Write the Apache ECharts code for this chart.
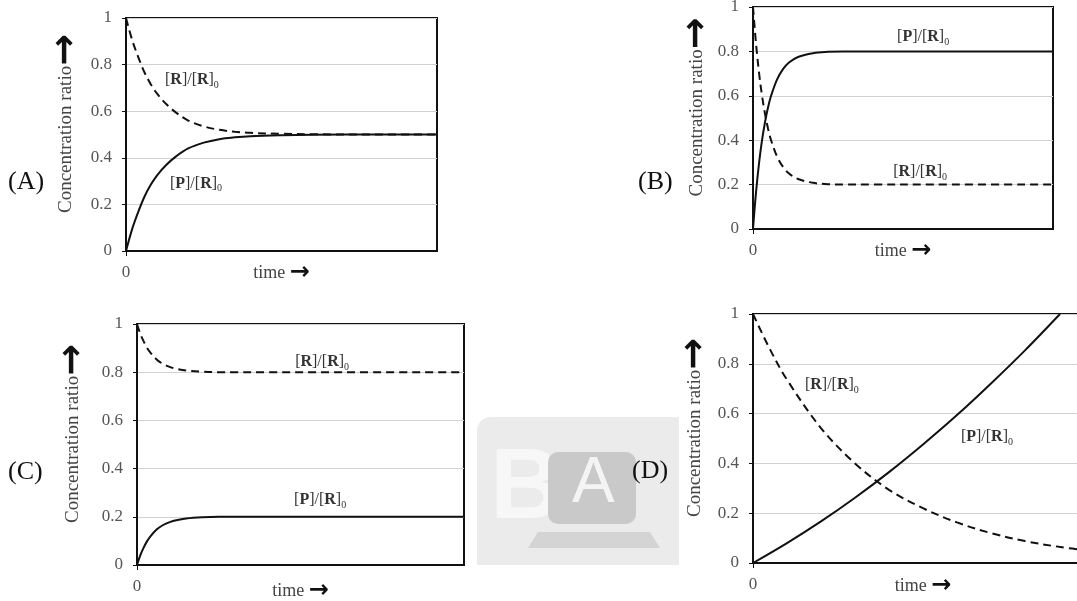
<!DOCTYPE html>
<html><head><meta charset="utf-8">
<script src="https://cdn.jsdelivr.net/npm/echarts@6/dist/echarts.min.js"></script>
<style>html,body{margin:0;padding:0;background:#fff}#c{width:1077px;height:601px}</style>
</head><body><div id="c"></div>
<script>
// ---- data ----
const yTicks = [0, 0.2, 0.4, 0.6, 0.8, 1];
// (A)
const tA = [0, 2, 4, 6, 8, 10, 13, 16, 20, 25, 30, 35, 40, 50, 60, 80, 100];
const pA = [0, 0.095, 0.17, 0.235, 0.285, 0.325, 0.37, 0.405, 0.44, 0.465, 0.48, 0.488, 0.493, 0.497, 0.499, 0.5, 0.5];
const rA = [1, 0.905, 0.83, 0.765, 0.715, 0.675, 0.63, 0.595, 0.56, 0.535, 0.52, 0.512, 0.507, 0.503, 0.501, 0.5, 0.5];
// (B)
const tB = [0, 1, 2, 3, 4, 5, 6, 8, 10, 12, 15, 20, 25, 30, 40, 60, 100];
const pB = [0, 0.164, 0.295, 0.399, 0.481, 0.547, 0.599, 0.673, 0.72, 0.75, 0.775, 0.792, 0.798, 0.8, 0.8, 0.8, 0.8];
const rB = [1, 0.836, 0.705, 0.601, 0.519, 0.453, 0.401, 0.327, 0.28, 0.25, 0.225, 0.208, 0.202, 0.2, 0.2, 0.2, 0.2];
// (C)
const tC = [0, 1, 2, 3, 4, 6, 8, 10, 12, 15, 20, 25, 30, 40, 60, 100];
const pC = [0, 0.04, 0.071, 0.097, 0.117, 0.147, 0.166, 0.178, 0.186, 0.193, 0.198, 0.2, 0.2, 0.2, 0.2, 0.2];
const rC = [1, 0.96, 0.929, 0.903, 0.883, 0.853, 0.834, 0.822, 0.814, 0.807, 0.802, 0.8, 0.8, 0.8, 0.8, 0.8];
// (D)
const tDP = [0, 10, 20, 30, 40, 50, 60, 70, 80, 90.3];
const pD = [0, 0.08, 0.167, 0.262, 0.365, 0.476, 0.594, 0.721, 0.854, 1.0];
const tDR = [0, 5, 10, 20, 30, 40, 50, 60, 70, 80, 90, 100];
const rD = [1, 0.858, 0.736, 0.542, 0.4, 0.294, 0.22, 0.163, 0.12, 0.088, 0.065, 0.048];

const panelLetters = ['(A)', '(B)', '(C)', '(D)'];
const yTitle = 'Concentration ratio';
const xTitle = 'time';
const rLabel = '[{b|R}]/[{b|R}]{s|0}';
const pLabel = '[{b|P}]/[{b|R}]{s|0}';

// ---- layout ----
const grids = [
  {left: 126, top: 18, width: 311, height: 233},
  {left: 753, top: 7, width: 300, height: 222},
  {left: 137, top: 324, width: 327, height: 241},
  {left: 753, top: 314, width: 340, height: 249}
];
const yNameGaps = [48, 44, 52, 46];
const xNameGaps = [11, 11, 15, 12];
const labelAnchors = [
  {r: [21.2, 0.734], p: [22.5, 0.29]},
  {r: [55.7, 0.257], p: [56.7, 0.865]},
  {r: [56.6, 0.842], p: [56, 0.27]},
  {r: [23.2, 0.715], p: [68.8, 0.506]}
];
const letterPos = [[8, 183], [638, 183], [8, 473], [632, 472]];

const zip = (t, v) => t.map((x, i) => [x, v[i]]);
const serif = 'Liberation Serif';
const richStyle = {
  b: {fontWeight: 'bold', fontFamily: serif, fontSize: 16, color: '#333', lineHeight: 20},
  s: {fontFamily: serif, fontSize: 10, color: '#333', lineHeight: 10, verticalAlign: 'bottom'}
};
function mp(coord, text) {
  return {
    symbol: 'circle', symbolSize: 0, silent: true,
    label: {show: true, position: 'inside', formatter: text, fontFamily: serif, fontSize: 16,
      color: '#333', lineHeight: 20, rich: richStyle},
    data: [{coord: coord}]
  };
}

const xAxes = [], yAxes = [], series = [];
const curves = [[zip(tA, pA), zip(tA, rA)], [zip(tB, pB), zip(tB, rB)], [zip(tC, pC), zip(tC, rC)], [zip(tDP, pD), zip(tDR, rD)]];
grids.forEach((g, i) => {
  g.show = true; g.borderColor = '#111'; g.borderWidth = 2; g.backgroundColor = 'transparent';
  g.outerBoundsMode = 'none'; g.containLabel = false;
  xAxes.push({
    gridIndex: i, type: 'value', min: 0, max: 100, interval: 100,
    name: '{t|' + xTitle + ' }{a|\u2192}', nameLocation: 'middle', nameGap: xNameGaps[i], nameMoveOverlap: false,
    nameTextStyle: {rich: {
      t: {fontFamily: serif, fontSize: 18, color: '#444', lineHeight: 22},
      a: {fontFamily: 'DejaVu Sans', fontSize: 24, fontWeight: 'bold', color: '#111', lineHeight: 22}
    }},
    axisLine: {show: true, lineStyle: {color: '#111', width: 2}},
    axisTick: {show: true, length: 5, lineStyle: {color: '#111'}, customValues: [0]},
    axisLabel: {show: true, customValues: [0], margin: 13, fontFamily: serif, fontSize: 17, color: '#555'},
    splitLine: {show: false}
  });
  yAxes.push({
    gridIndex: i, type: 'value', min: 0, max: 1, interval: 0.2,
    name: '{t|' + yTitle + '}{a|\u2192}', nameLocation: 'middle', nameGap: yNameGaps[i], nameRotate: 90,
    nameMoveOverlap: false,
    nameTextStyle: {padding: [0, 0, 0, 22], rich: {
      t: {fontFamily: serif, fontSize: 19, color: '#444', lineHeight: 24},
      a: {fontFamily: 'DejaVu Sans', fontSize: 38, fontWeight: 'bold', color: '#111', lineHeight: 24}
    }},
    axisLine: {show: true, lineStyle: {color: '#111', width: 2}},
    axisTick: {show: true, length: 4, lineStyle: {color: '#111'}},
    axisLabel: {margin: 14, fontFamily: serif, fontSize: 17, color: '#555'},
    splitLine: {show: true, lineStyle: {color: '#d2d2d2', width: 1}}
  });
  series.push({
    type: 'line', xAxisIndex: i, yAxisIndex: i, data: curves[i][0], showSymbol: false,
    smooth: 0.35, lineStyle: {color: '#111', width: 2}, silent: true,
    markPoint: mp(labelAnchors[i].p, pLabel)
  });
  series.push({
    type: 'line', xAxisIndex: i, yAxisIndex: i, data: curves[i][1], showSymbol: false,
    smooth: 0.35, lineStyle: {color: '#111', width: 2, type: [8, 5]}, silent: true,
    markPoint: mp(labelAnchors[i].r, rLabel)
  });
});

const graphics = [
  {type: 'rect', shape: {x: 477, y: 417, width: 202, height: 148, r: [14, 0, 0, 0]}, style: {fill: '#ebebeb'}, z: -10},
  {type: 'text', left: 490, top: 440, style: {text: 'B', font: 'bold 100px Liberation Sans', fill: '#f7f7f7'}, z: -9},
  {type: 'rect', shape: {x: 548, y: 452, width: 88, height: 72, r: 10}, style: {fill: '#c9c9c9'}, z: -9},
  {type: 'polygon', shape: {points: [[528, 548], [660, 548], [650, 532], [538, 532]]}, style: {fill: '#d4d4d4'}, z: -9},
  {type: 'text', left: 572, top: 452, style: {text: 'A', font: '64px Liberation Sans', fill: '#f4f4f4'}, z: -8}
];
panelLetters.forEach((L, i) => {
  graphics.push({type: 'text', left: letterPos[i][0], top: letterPos[i][1] - 14,
    style: {text: L, font: '26px Liberation Serif', fill: '#111'}});
});

const chart = echarts.init(document.getElementById('c'), null, {renderer: 'canvas'});
chart.setOption({
  animation: false, backgroundColor: '#fff',
  grid: grids, xAxis: xAxes, yAxis: yAxes, series: series, graphic: graphics
});
</script></body></html>
